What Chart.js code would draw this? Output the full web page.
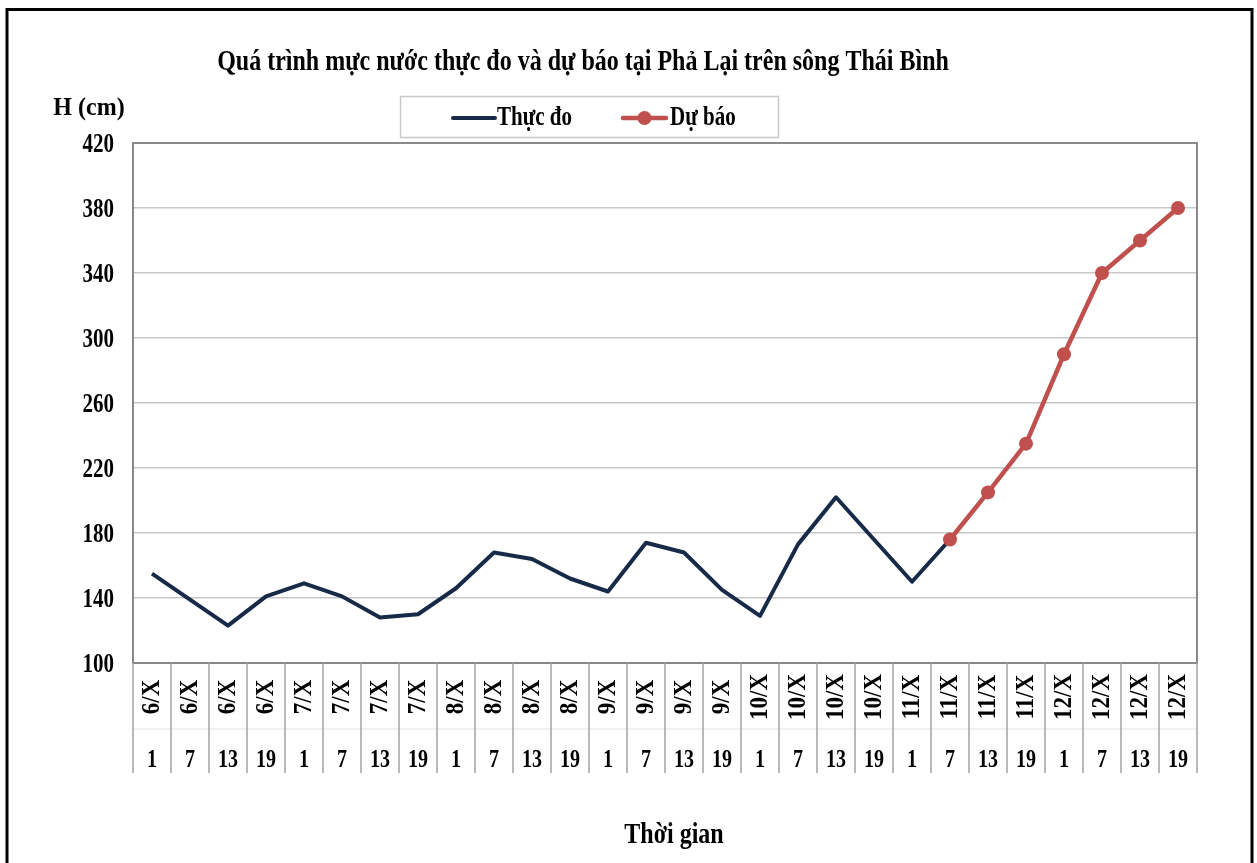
<!DOCTYPE html>
<html><head><meta charset="utf-8">
<script src="https://cdn.jsdelivr.net/npm/chart.js@4/dist/chart.umd.min.js"></script>
<style>html,body{margin:0;padding:0;background:#fff}canvas{display:block}</style>
</head><body>
<canvas id="c" width="1257" height="863"></canvas>
<script>
const dates = ["6/X","6/X","6/X","6/X","7/X","7/X","7/X","7/X","8/X","8/X","8/X","8/X","9/X","9/X","9/X","9/X","10/X","10/X","10/X","10/X","11/X","11/X","11/X","11/X","12/X","12/X","12/X","12/X"];
const hours = ["1","7","13","19","1","7","13","19","1","7","13","19","1","7","13","19","1","7","13","19","1","7","13","19","1","7","13","19"];
const observed = [155,139,123,141,149,141,128,130,146,168,164,152,144,174,168,145,129,173,202,176,150,176,null,null,null,null,null,null];
const forecast = [null,null,null,null,null,null,null,null,null,null,null,null,null,null,null,null,null,null,null,null,null,176,205,235,290,340,360,380];
const yMin = 100, yMax = 420, yStep = 40;
const titleText = "Quá trình mực nước thực đo và dự báo tại Phả Lại trên sông Thái Bình";
const yTitle = "H (cm)";
const xTitle = "Thời gian";
const seriesNames = ["Thực đo", "Dự báo"];

const FONT = '"Liberation Serif", "Times New Roman", serif';
const DARK = '#172a48';
const RED = '#c0504d';

function sText(ctx, text, x, y, size, sy, align) {
  ctx.save();
  ctx.translate(x, y);
  ctx.scale(1, sy);
  ctx.font = 'bold ' + size + 'px ' + FONT;
  ctx.textAlign = align || 'center';
  ctx.textBaseline = 'alphabetic';
  ctx.fillText(text, 0, 0);
  ctx.restore();
}

const decor = {
  id: 'decor',
  afterDraw(chart) {
    const ctx = chart.ctx;
    const a = chart.chartArea;
    const xs = chart.scales.x;
    const ys = chart.scales.y;
    ctx.save();
    // plot frame
    ctx.strokeStyle = '#898989';
    ctx.lineWidth = 2;
    ctx.strokeRect(a.left, a.top, a.right - a.left, a.bottom - a.top);
    ctx.fillStyle = '#000';
    // y tick labels (from the library's scale)
    ys.ticks.forEach(t => {
      const y = ys.getPixelForValue(t.value);
      sText(ctx, String(t.value), a.left - 19, y + 8.7, 21, 1.25, 'right');
    });
    // category axis
    const half = (xs.getPixelForValue(1) - xs.getPixelForValue(0)) / 2;
    ctx.strokeStyle = '#e4e4e4';
    ctx.lineWidth = 1;
    ctx.beginPath();
    ctx.moveTo(a.left, a.bottom + 66); ctx.lineTo(a.right, a.bottom + 66);
    ctx.stroke();
    ctx.strokeStyle = '#a3a3a3';
    ctx.lineWidth = 1.5;
    ctx.beginPath();
    for (let i = 0; i <= hours.length; i++) {
      const x = (i < hours.length ? xs.getPixelForValue(i) - half : xs.getPixelForValue(hours.length - 1) + half);
      ctx.moveTo(x, a.bottom); ctx.lineTo(x, a.bottom + 110);
    }
    ctx.stroke();
    for (let i = 0; i < hours.length; i++) {
      const cx = xs.getPixelForValue(i);
      ctx.save();
      ctx.translate(cx - 1 + 8, a.bottom + 34);
      ctx.rotate(-Math.PI / 2);
      ctx.scale(1, 1.05);
      ctx.font = 'bold 23px ' + FONT;
      ctx.textAlign = 'center';
      ctx.textBaseline = 'alphabetic';
      ctx.fillText(dates[i], 0, 0);
      ctx.restore();
      sText(ctx, hours[i], cx, a.bottom + 104, 20, 1.23, 'center');
    }
    // titles
    sText(ctx, titleText, 583, 70, 24, 1.25, 'center');
    sText(ctx, yTitle, 89, 115, 24, 1.05, 'center');
    sText(ctx, xTitle, 674, 843, 24, 1.25, 'center');
    // legend
    ctx.strokeStyle = '#c9c9c9';
    ctx.lineWidth = 1.5;
    ctx.strokeRect(400.5, 96.5, 378, 41);
    ctx.lineCap = 'round';
    ctx.strokeStyle = DARK; ctx.lineWidth = 4;
    ctx.beginPath(); ctx.moveTo(453, 118); ctx.lineTo(495, 118); ctx.stroke();
    ctx.strokeStyle = RED; ctx.lineWidth = 4.5;
    ctx.beginPath(); ctx.moveTo(623, 118); ctx.lineTo(666, 118); ctx.stroke();
    ctx.fillStyle = RED;
    ctx.beginPath(); ctx.arc(644.5, 118, 7, 0, Math.PI * 2); ctx.fill();
    ctx.fillStyle = '#000';
    sText(ctx, seriesNames[0], 497, 125, 21, 1.25, 'left');
    sText(ctx, seriesNames[1], 670, 125, 21, 1.25, 'left');
    // outer border
    ctx.strokeStyle = '#000';
    ctx.lineWidth = 3;
    ctx.strokeRect(7, 9.5, 1245, 870);
    ctx.restore();
  }
};

new Chart(document.getElementById('c'), {
  type: 'line',
  data: {
    labels: dates.map((d, i) => d + ' ' + hours[i]),
    datasets: [
      { label: seriesNames[1], data: forecast, borderColor: RED, backgroundColor: RED,
        borderWidth: 4.5, pointRadius: 7, pointBorderWidth: 0, pointBackgroundColor: RED,
        tension: 0, order: 0 },
      { label: seriesNames[0], data: observed, borderColor: DARK, backgroundColor: DARK,
        borderWidth: 4, pointRadius: 0, tension: 0, order: 1, borderJoinStyle: 'round' }
    ]
  },
  options: {
    responsive: false,
    animation: false,
    layout: { padding: { left: 0, top: 143, right: 60, bottom: 200 } },
    plugins: { legend: { display: false }, title: { display: false }, tooltip: { enabled: false } },
    scales: {
      x: {
        type: 'category', offset: true,
        grid: { display: false, offset: true },
        border: { display: false },
        ticks: { display: false },
        afterFit(s) { s.height = 0; }
      },
      y: {
        min: yMin, max: yMax,
        ticks: { stepSize: yStep, display: false },
        grid: { color: '#c8c8c8', lineWidth: 1.5, drawTicks: false },
        border: { display: false },
        afterFit(s) { s.width = 133; }
      }
    }
  },
  plugins: [decor]
});
</script>
</body></html>
